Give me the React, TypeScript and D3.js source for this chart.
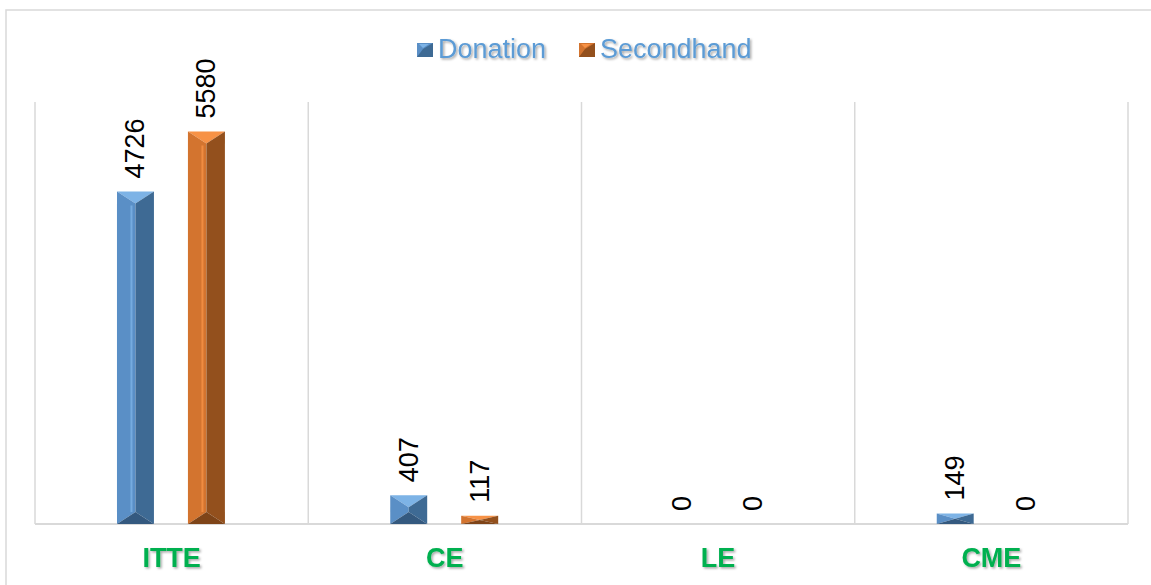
import React, { useEffect, useRef } from 'react';
import * as d3 from 'd3';

const categories = ['ITTE', 'CE', 'LE', 'CME'];
const seriesNames = ['Donation', 'Secondhand'];
const donation = [4726, 407, 0, 149];
const secondhand = [5580, 117, 0, 0];
const yMax = 6000;

const W = 1151;
const H = 585;
const FONT = '"Liberation Sans", Arial, Helvetica, sans-serif';

// bevel face colours: top, left, right, bottom
const faces: Record<string, string[]> = {
  Donation: ['#7DB3E6', '#5A8FC6', '#3E6A94', '#34597F'],
  Secondhand: ['#F79246', '#D3742F', '#93501D', '#7E4418'],
};

const App: React.FC = () => {
  const svgRef = useRef<SVGSVGElement>(null);

  useEffect(() => {
    if (!svgRef.current) return;
    const svg = d3.select(svgRef.current);
    svg.selectAll('*').remove();

    const plot = { left: 35, right: 1128, top: 102, bottom: 524 };

    const defs = svg.append('defs');
    const f = defs.append('filter').attr('id', 'tshadow')
      .attr('x', '-10%').attr('y', '-20%').attr('width', '130%').attr('height', '160%');
    f.append('feDropShadow').attr('dx', 1.5).attr('dy', 1.5).attr('stdDeviation', 1)
      .attr('flood-color', '#000').attr('flood-opacity', 0.35);

    // outer chart border
    svg.append('rect')
      .attr('x', 6).attr('y', 10).attr('width', W).attr('height', H)
      .attr('fill', '#fff').attr('stroke', '#D9D9D9').attr('stroke-width', 1.5);

    const x0 = d3.scaleBand<string>().domain(categories).range([plot.left, plot.right]);
    const x1 = d3.scaleBand<string>().domain(seriesNames)
      .range([x0.bandwidth() * 0.3, x0.bandwidth() * 0.695]).paddingInner(0.479);
    const y = d3.scaleLinear().domain([0, yMax]).range([plot.bottom, plot.top]);

    // vertical gridlines at category boundaries
    const bounds = categories.map(c => x0(c)!).concat([plot.right]);
    svg.append('g').selectAll('line').data(bounds).enter().append('line')
      .attr('x1', d => d).attr('x2', d => d)
      .attr('y1', plot.top).attr('y2', plot.bottom)
      .attr('stroke', '#D9D9D9').attr('stroke-width', 1.5);

    // axis line
    svg.append('line')
      .attr('x1', plot.left).attr('x2', plot.right)
      .attr('y1', plot.bottom).attr('y2', plot.bottom)
      .attr('stroke', '#D9D9D9').attr('stroke-width', 2);

    const rows = categories.flatMap((c, i) => [
      { cat: c, s: 'Donation', v: donation[i] },
      { cat: c, s: 'Secondhand', v: secondhand[i] },
    ]);

    // beveled bars
    const bars = svg.append('g');
    rows.forEach(r => {
      if (r.v <= 0) return;
      const xa = x0(r.cat)! + x1(r.s)!;
      const xb = xa + x1.bandwidth();
      const xc = (xa + xb) / 2;
      const ya = y(r.v);
      const yb = y(0);
      const d = Math.min(12, (yb - ya) / 2);
      const c = faces[r.s];
      const polys = [
        [[xa, ya], [xb, ya], [xc, ya + d]],
        [[xa, ya], [xc, ya + d], [xc, yb - d], [xa, yb]],
        [[xb, ya], [xc, ya + d], [xc, yb - d], [xb, yb]],
        [[xa, yb], [xb, yb], [xc, yb - d]],
      ];
      polys.forEach((p, k) => {
        bars.append('polygon')
          .attr('points', p.map(q => q.join(',')).join(' '))
          .attr('fill', c[k]);
      });
      // thin highlight line down the middle of the left face
      if (yb - ya > 30) {
        bars.append('line')
          .attr('x1', xc - 4).attr('x2', xc - 4)
          .attr('y1', ya + d + 2).attr('y2', yb - d)
          .attr('stroke', c[0]).attr('stroke-width', 2).attr('opacity', 0.8);
      }
    });

    // value labels, rotated
    svg.append('g').selectAll('text').data(rows).enter().append('text')
      .attr('transform', r => {
        const cx = x0(r.cat)! + x1(r.s)! + x1.bandwidth() / 2;
        return `translate(${cx},${y(r.v) - 13}) rotate(-90)`;
      })
      .attr('dominant-baseline', 'central')
      .attr('text-anchor', 'start')
      .attr('font-family', FONT)
      .attr('font-size', 27)
      .attr('fill', '#000')
      .text(r => String(r.v));

    // category labels
    svg.append('g').selectAll('text').data(categories).enter().append('text')
      .attr('x', c => x0(c)! + x0.bandwidth() / 2)
      .attr('y', 567)
      .attr('text-anchor', 'middle')
      .attr('font-family', FONT)
      .attr('font-weight', 'bold')
      .attr('font-size', 27)
      .attr('fill', '#00B050')
      .attr('filter', 'url(#tshadow)')
      .text(c => c);

    // legend
    const legendX = [417, 579];
    seriesNames.forEach((s, i) => {
      const g = svg.append('g').attr('transform', `translate(${legendX[i]},43)`);
      const c = faces[s];
      g.append('polygon').attr('points', '0,0 16,0 16,14 0,14').attr('fill', c[2]);
      g.append('polygon').attr('points', '0,0 16,0 6,6 0,14').attr('fill', c[1]);
      g.append('polygon').attr('points', '2,1 12,1 6,5').attr('fill', c[0]);
      g.append('text')
        .attr('x', 21).attr('y', 15)
        .attr('font-family', FONT)
        .attr('font-size', 27)
        .attr('fill', '#5B9BD5')
        .attr('filter', 'url(#tshadow)')
        .text(s);
    });
  }, []);

  return (
    <div style={{ position: 'absolute', left: 0, top: 0 }}>
      <svg ref={svgRef} width={W} height={H} style={{ display: 'block' }} />
    </div>
  );
};

export default App;
